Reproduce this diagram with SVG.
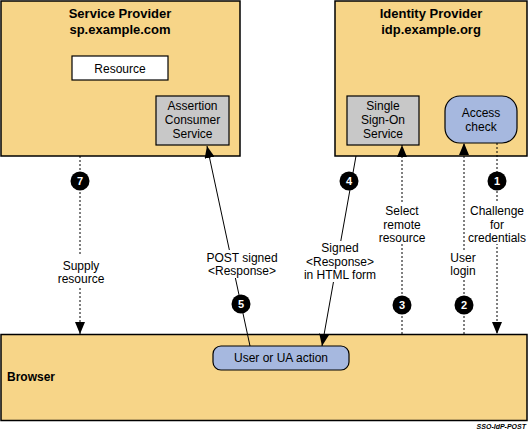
<svg xmlns="http://www.w3.org/2000/svg" width="530" height="433" viewBox="0 0 530 433">
<defs>
<style>
text{font-family:"Liberation Sans",Arial,sans-serif;fill:#000}
.t{font-size:13px;font-weight:bold;text-anchor:middle}
.n{font-size:12px;text-anchor:middle}
.lbl{font-size:12px;text-anchor:middle}
.box{fill:#F7D588;stroke:#000;stroke-width:1.5}
.gray{fill:#C8C8C8;stroke:#000;stroke-width:1.2}
.blue{fill:#A6B8DF;stroke:#000;stroke-width:1.2}
.solid{stroke:#000;stroke-width:1;fill:none}
.dot{stroke:#000;stroke-width:1;stroke-dasharray:2 2;fill:none}
.bg{fill:#fff}
.num{fill:#000}
.nt{font-size:11px;font-weight:bold;fill:#fff;text-anchor:middle}
</style>
<marker id="ah" markerWidth="12" markerHeight="10" refX="12" refY="5" orient="auto" markerUnits="userSpaceOnUse" viewBox="0 0 12 10">
<path d="M0,0 L12,5 L0,10 Z" fill="#000"/>
</marker>
</defs>
<rect width="530" height="433" fill="#fff"/>

<g id="sp">
<rect class="box" x="1" y="1" width="239" height="155"/>
<text class="t" x="120" y="18">Service Provider</text>
<text class="t" x="120" y="34">sp.example.com</text>
</g>
<g id="resource">
<rect x="72" y="56" width="96" height="24" fill="#fff" stroke="#000" stroke-width="1.2"/>
<text class="n" x="120" y="73">Resource</text>
</g>
<g id="acs">
<rect class="gray" x="156" y="96" width="73" height="49"/>
<text class="n" x="192.5" y="110">Assertion</text>
<text class="n" x="192.5" y="124">Consumer</text>
<text class="n" x="192.5" y="138">Service</text>
</g>

<g id="idp">
<rect class="box" x="335" y="1" width="192" height="155"/>
<text class="t" x="431" y="18">Identity Provider</text>
<text class="t" x="431" y="34">idp.example.org</text>
</g>
<g id="sso">
<rect class="gray" x="347" y="96" width="72" height="49"/>
<text class="n" x="383" y="110">Single</text>
<text class="n" x="383" y="124">Sign-On</text>
<text class="n" x="383" y="138">Service</text>
</g>
<g id="access">
<rect class="blue" x="445" y="96" width="72" height="47" rx="15" ry="15"/>
<text class="n" x="481" y="117">Access</text>
<text class="n" x="481" y="131">check</text>
</g>

<g id="browser">
<rect class="box" x="1" y="334.5" width="526" height="86"/>
<text x="7" y="381" font-size="12" font-weight="bold">Browser</text>
</g>
<g id="ua">
<rect class="blue" x="213" y="346" width="136" height="24" rx="8" ry="8"/>
<text class="n" x="281" y="362">User or UA action</text>
</g>

<g id="connectors">
<line class="dot" x1="80" y1="156" x2="80" y2="334" marker-end="url(#ah)"/>
<line class="solid" x1="250" y1="346" x2="207" y2="146" marker-end="url(#ah)"/>
<line class="solid" x1="356" y1="156" x2="322" y2="346" marker-end="url(#ah)"/>
<line class="dot" x1="402" y1="334" x2="402" y2="145" marker-end="url(#ah)"/>
<line class="dot" x1="464" y1="334" x2="464" y2="143" marker-end="url(#ah)"/>
<line class="dot" x1="497" y1="143" x2="497" y2="334" marker-end="url(#ah)"/>

<rect class="bg" x="52" y="255" width="58" height="33"/>
<text class="lbl" x="81" y="270">Supply</text>
<text class="lbl" x="81" y="283">resource</text>

<rect class="bg" x="198" y="250" width="88" height="28"/>
<text class="lbl" x="242" y="262">POST signed</text>
<text class="lbl" x="242" y="275">&lt;Response&gt;</text>

<rect class="bg" x="300" y="241" width="78" height="41"/>
<text class="lbl" x="340" y="252">Signed</text>
<text class="lbl" x="340" y="266">&lt;Response&gt;</text>
<text class="lbl" x="340" y="279">in HTML form</text>

<rect class="bg" x="375" y="203" width="53" height="41"/>
<text class="lbl" x="402" y="215">Select</text>
<text class="lbl" x="402" y="229">remote</text>
<text class="lbl" x="402" y="242">resource</text>

<rect class="bg" x="447" y="250" width="31" height="28"/>
<text class="lbl" x="463" y="262">User</text>
<text class="lbl" x="463" y="275">login</text>

<rect class="bg" x="465" y="203" width="62" height="41"/>
<text class="lbl" x="497" y="215">Challenge</text>
<text class="lbl" x="497" y="229">for</text>
<text class="lbl" x="497" y="242">credentials</text>

<circle class="num" cx="80" cy="181" r="9.5"/>
<text class="nt" x="80" y="185">7</text>
<circle class="num" cx="241" cy="304" r="9.5"/>
<text class="nt" x="241" y="308">5</text>
<circle class="num" cx="349" cy="181" r="9.5"/>
<text class="nt" x="349" y="185">4</text>
<circle class="num" cx="402" cy="305" r="9.5"/>
<text class="nt" x="402" y="309">3</text>
<circle class="num" cx="464" cy="305" r="9.5"/>
<text class="nt" x="464" y="309">2</text>
<circle class="num" cx="497" cy="181" r="9.5"/>
<text class="nt" x="497" y="185">1</text>
</g>

<text x="526" y="429" font-size="7" font-weight="bold" font-style="italic" text-anchor="end">SSO-IdP-POST</text>
</svg>
